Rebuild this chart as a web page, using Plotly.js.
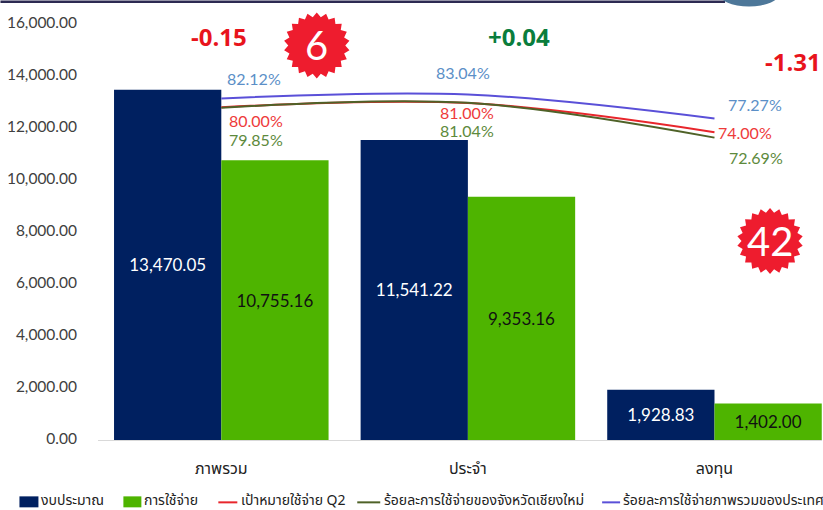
<!DOCTYPE html>
<html><head><meta charset="utf-8">
<script src="https://cdn.plot.ly/plotly-3.0.1.min.js"></script>
<style>html,body{margin:0;padding:0;background:#fff;overflow:hidden}</style>
</head><body><div id="chart" style="width:823px;height:510px"></div>
<script>
var categories = ["ภาพรวม", "ประจำ", "ลงทุน"];
var budget = [13470.05, 11541.22, 1928.83];
var spending = [10755.16, 9353.16, 1402.00];
var targetQ2 = [80.00, 81.00, 74.00];
var chiangMai = [79.85, 81.04, 72.69];
var national = [82.12, 83.04, 77.27];
var seriesNames = ["งบประมาณ", "การใช้จ่าย", "เป้าหมายใช้จ่าย Q2", "ร้อยละการใช้จ่ายของจังหวัดเชียงใหม่", "ร้อยละการใช้จ่ายภาพรวมของประเทศ"];
var diffs = ["-0.15", "+0.04", "-1.31"];
var diffColors = ["#e8141c", "#0a7d3c", "#e8141c"];
var badges = ["6", "42"];
var W = 823, H = 510, L = 97.6, R = 1, T = 23.5, B = 69.5;
var fx = function (x) { return (x - L) / (W - L - R); };
var fy = function (y) { return (H - B - y) / (H - T - B); };
var fmt = function (v) { return v.toLocaleString("en-US", {minimumFractionDigits: 2, maximumFractionDigits: 2}); };
var pct = function (v) { return v.toFixed(2) + "%"; };
var thai = "'Noto Sans Thai','Noto Sans','Open Sans',sans-serif";
var latin = "Lato,'Open Sans',sans-serif";
var navy = "#002060", lime = "#4eb400", lineRed = "#e8262c", lineBrown = "#4f6228", linePurple = "#5a50d8";
var traces = [
  {type: "bar", name: seriesNames[0], x: categories, y: budget, marker: {color: navy},
   text: budget.map(fmt), textposition: "inside", insidetextanchor: "middle", textangle: 0,
   textfont: {color: "#fff", size: 17, family: latin}, hoverinfo: "none"},
  {type: "bar", name: seriesNames[1], x: categories, y: spending, marker: {color: lime},
   text: spending.map(fmt), textposition: "inside", insidetextanchor: "middle", textangle: 0,
   textfont: {color: "#111", size: 17, family: latin}, hoverinfo: "none"},
  {type: "scatter", mode: "lines", name: seriesNames[2], x: categories, y: targetQ2, yaxis: "y2",
   line: {color: lineRed, width: 2, shape: "spline", smoothing: 1}},
  {type: "scatter", mode: "lines", name: seriesNames[3], x: categories, y: chiangMai, yaxis: "y2",
   line: {color: lineBrown, width: 2, shape: "spline", smoothing: 1}},
  {type: "scatter", mode: "lines", name: seriesNames[4], x: categories, y: national, yaxis: "y2",
   line: {color: linePurple, width: 2, shape: "spline", smoothing: 1}}
];
var ann = [], shapes = [];
function label(i, v, dx, dy, color) {
  ann.push({xref: "x", yref: "y2", x: categories[i], y: v, xshift: dx, yshift: dy, text: pct(v), showarrow: false,
    xanchor: "center", yanchor: "middle", font: {family: latin, size: 16, color: color}});
}
var blue = "#5b8fc7", red = "#ee3a3a", green = "#5d8a3c";
national.forEach(function (v, i) { label(i, v, [33, -5, 40.5][i], [20, 22, 14][i], blue); });
targetQ2.forEach(function (v, i) { label(i, v, [35, -1, 30.5][i], [-13, -9, 0][i], red); });
chiangMai.forEach(function (v, i) { label(i, v, [35, -1, 41.5][i], [-32, -28, -20][i], green); });
var diffPos = [[219, 36], [519, 36], [793, 61]];
diffs.forEach(function (t, i) {
  ann.push({xref: "paper", yref: "paper", x: fx(diffPos[i][0]), y: fy(diffPos[i][1]), text: "<b>" + t + "</b>", showarrow: false,
    xanchor: "center", yanchor: "middle", font: {family: "'Open Sans',sans-serif", size: 24, color: diffColors[i]}});
});
function star(r1, r2, n) {
  var d = "";
  for (var i = 0; i < 2 * n; i++) {
    var r = i % 2 ? r2 : r1, a = Math.PI * i / n;
    d += (i ? "L" : "M") + (r * Math.sin(a)).toFixed(2) + "," + (-r * Math.cos(a)).toFixed(2);
  }
  return d + "Z";
}
var badgePos = [[316.5, 45], [770, 241]];
badges.forEach(function (t, i) {
  shapes.push({type: "path", xref: "paper", yref: "paper", xsizemode: "pixel", ysizemode: "pixel",
    xanchor: fx(badgePos[i][0]), yanchor: fy(badgePos[i][1]),
    path: star(33, 28.5, 22), fillcolor: "#ee1c2e", line: {width: 0}, layer: "below"});
  ann.push({xref: "paper", yref: "paper", x: fx(badgePos[i][0]), y: fy(badgePos[i][1]), text: t, showarrow: false,
    xanchor: "center", yanchor: "middle", font: {family: latin, size: 40, color: "#fff"}});
});
// top strip and the edge of the emblem cut off at the top of the picture
shapes.push({type: "rect", xref: "paper", yref: "paper", x0: fx(0), x1: fx(725), y0: fy(2.5), y1: fy(0), fillcolor: "#2c2a52", line: {width: 0}, layer: "below"});
shapes.push({type: "circle", xref: "paper", yref: "paper", x0: fx(718), x1: fx(780), y0: fy(6), y1: fy(-22), fillcolor: "#4d7799", line: {width: 0}, layer: "below"});
// legend row
var legendY = 501;
var legendMarks = [[19, 38, navy, true], [123, 141, lime, true], [218, 237, lineRed, false], [357, 380, lineBrown, false], [602, 620, linePurple, false]];
var legendText = [40, 143, 240, 383, 622];
seriesNames.forEach(function (n, i) {
  var m = legendMarks[i];
  if (m[3]) shapes.push({type: "rect", xref: "paper", yref: "paper", x0: fx(m[0]), x1: fx(m[1]), y0: fy(legendY + 7), y1: fy(legendY - 4), fillcolor: m[2], line: {width: 0}, layer: "below"});
  else shapes.push({type: "line", xref: "paper", yref: "paper", x0: fx(m[0]), x1: fx(m[1]), y0: fy(legendY + 2), y1: fy(legendY + 2), line: {color: m[2], width: 2}, layer: "below"});
  ann.push({xref: "paper", yref: "paper", x: fx(legendText[i]), y: fy(legendY), xanchor: "left", yanchor: "middle", xshift: -1, text: n, showarrow: false,
    font: {family: thai, size: 14, color: "#222"}});
});
Plotly.newPlot("chart", traces, {
  width: W, height: H, showlegend: false, barmode: "group", bargap: 0.13, bargroupgap: 0,
  paper_bgcolor: "#fff", plot_bgcolor: "#fff",
  margin: {l: L, r: R, t: T, b: B, pad: 0, autoexpand: false},
  xaxis: {range: [-0.5, 2.436], type: "category", categoryorder: "array", categoryarray: categories, showline: true, linecolor: "#d9d9d9", linewidth: 1, ticks: "",
    ticklabelstandoff: 14, tickfont: {family: thai, size: 16, color: "#222"}, showgrid: false, zeroline: false},
  yaxis: {range: [0, 16000], tickvals: [0, 2000, 4000, 6000, 8000, 10000, 12000, 14000, 16000], tickformat: ",.2f", ticklabelstandoff: 20, ticklabelshift: -1,
    tickfont: {family: latin, size: 15.5, color: "#404040"}, showgrid: false, zeroline: false, showline: false, ticks: ""},
  yaxis2: {range: [0, 100], overlaying: "y", side: "right", visible: false},
  annotations: ann, shapes: shapes
}, {displayModeBar: false, staticPlot: true});
</script></body></html>
